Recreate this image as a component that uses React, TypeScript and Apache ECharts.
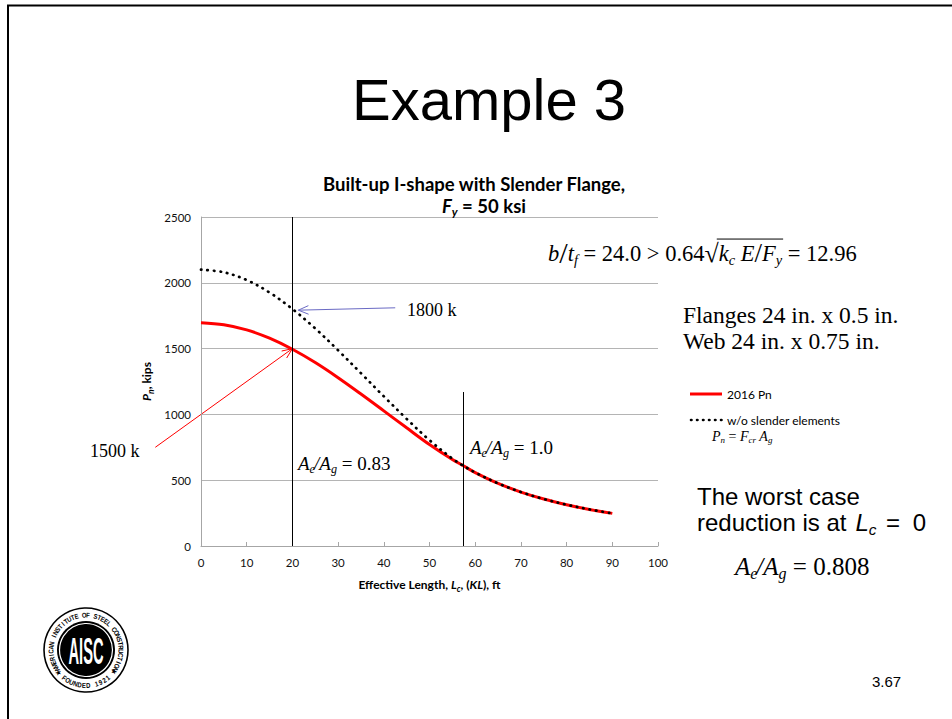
import React, { useEffect, useRef } from "react";
import * as echarts from "echarts";

// Effective length Lc (ft) at which the two strength curves are tabulated
const lengthFt = [0, 5, 10, 15, 20, 25, 30, 35, 40, 45, 50, 55, 57.3, 60, 65, 70, 75, 80, 85, 90];
// 2016 AISC nominal strength with slender flange (effective area), kips
const pn2016 = [1697, 1681, 1642, 1579, 1495, 1394, 1279, 1155, 1027, 898, 771, 657, 612, 558, 476, 410, 357, 314, 278, 248];
// Strength ignoring slender elements, Pn = Fcr Ag, kips
const pnGross = [2100, 2080, 2021, 1926, 1801, 1653, 1487, 1313, 1137, 966, 804, 664, 612, 558, 476, 410, 357, 314, 278, 248];

const seriesNames = ["2016 Pn", "w/o slender elements"];

// Axis ranges
const xRange = [0, 100, 10];
const yRange = [0, 2500, 500];

// Reference lines: Lc = 20 ft and the length where Ae/Ag reaches 1.0
const markLengths = [20, 57.3];
const markTops = [2500, 1170];

// Callout pointers in data units: [tail, tip]
const pointer1500 = [[-10, 750], [20, 1500]];
const pointer1800 = [[42.5, 1810], [21.3, 1792]];

const SERIF = "Liberation Serif";
const SANS = "Liberation Sans";
const BODY = "Lato";

const measureCtx = document.createElement("canvas").getContext("2d") as CanvasRenderingContext2D;
function textWidth(t: string, font: string) {
  measureCtx.font = font;
  return measureCtx.measureText(t).width;
}

type Seg = { t: string; i?: boolean; s?: boolean; b?: boolean; k?: number; over?: boolean; scale?: number };
type MathOpts = { x: number; y: number; size: number; family: string; align?: string; color?: string; bold?: boolean };

// Lays out a line of mixed italic / subscript text as separate text elements
function mathText(segs: Seg[], o: MathOpts) {
  const color = o.color || "#000";
  const items = segs.map((sg) => {
    const size = sg.s ? o.size * 0.64 : o.size * (sg.scale || 1);
    const style = sg.i ? "italic" : "normal";
    const weight = sg.b ?? o.bold ? "bold" : "normal";
    const w = textWidth(sg.t, `${style} ${weight} ${size}px "${o.family}"`) + (sg.k || 0);
    return { sg, size, style, weight, w };
  });
  const total = items.reduce((a, b) => a + b.w, 0);
  let cur = o.align === "center" ? o.x - total / 2 : o.x;
  let overStart: number | null = null;
  let overEnd = 0;
  const els: any[] = [];
  for (const it of items) {
    els.push({
      type: "text",
      x: cur,
      y: o.y + (it.sg.s ? o.size * 0.3 : 0),
      style: {
        text: it.sg.t,
        fontSize: it.size,
        fontStyle: it.style,
        fontWeight: it.weight,
        fontFamily: o.family,
        fill: color,
        align: "left",
        verticalAlign: "middle",
      },
    });
    if (it.sg.over) {
      if (overStart === null) overStart = cur;
      overEnd = cur + it.w;
    }
    cur += it.w;
  }
  if (overStart !== null) {
    els.push({
      type: "line",
      shape: { x1: overStart - 2, y1: o.y - o.size * 0.62, x2: overEnd + 1, y2: o.y - o.size * 0.62 },
      style: { stroke: color, lineWidth: 1 },
    });
  }
  return els;
}

function plainText(text: string, x: number, y: number, size: number, family: string, extra: any = {}) {
  return {
    type: "text",
    x,
    y,
    style: { text, fontSize: size, fontFamily: family, fill: "#000", align: "left", verticalAlign: "middle", ...extra },
  };
}

function arrowHead(tip: number[], from: number[], len: number, spread: number, color: string, w: number) {
  const ang = Math.atan2(from[1] - tip[1], from[0] - tip[0]);
  const p1 = [tip[0] + len * Math.cos(ang + spread), tip[1] + len * Math.sin(ang + spread)];
  const p2 = [tip[0] + len * Math.cos(ang - spread), tip[1] + len * Math.sin(ang - spread)];
  return { type: "polyline", shape: { points: [p1, tip, p2] }, style: { stroke: color, lineWidth: w, fill: "none" } };
}

// Round society seal with lettering around the rim
function seal(cx: number, cy: number) {
  const els: any[] = [];
  els.push({ type: "circle", shape: { cx, cy, r: 42 }, style: { fill: "#fff", stroke: "#000", lineWidth: 1.6 } });
  els.push({ type: "circle", shape: { cx, cy, r: 29 }, style: { fill: "#000" } });
  els.push({ type: "circle", shape: { cx, cy, r: 26.5 }, style: { fill: "none", stroke: "#fff", lineWidth: 1.2 } });
  els.push({
    type: "text",
    x: cx,
    y: cy + 1,
    scaleX: 0.7,
    scaleY: 1.8,
    style: { text: "AISC", fontSize: 21, fontWeight: "bold", fontFamily: SANS, fill: "#fff", stroke: "#000", lineWidth: 0.5, align: "center", verticalAlign: "middle" },
  });
  const top = "AMERICAN INSTITUTE OF STEEL CONSTRUCTION";
  const r = 35.2;
  const a0 = -124, a1 = 124;
  for (let i = 0; i < top.length; i++) {
    const a = ((a0 + (i * (a1 - a0)) / (top.length - 1)) * Math.PI) / 180;
    els.push({
      type: "text",
      x: cx + r * Math.sin(a),
      y: cy - r * Math.cos(a),
      rotation: -a,
      scaleX: 0.85,
      style: { text: top[i], fontSize: 7, fontWeight: "bold", fontFamily: SANS, fill: "#000", align: "center", verticalAlign: "middle" },
    });
  }
  const bottom = "★ FOUNDED 1921 ★";
  const b0 = -52, b1 = 52;
  for (let i = 0; i < bottom.length; i++) {
    const a = ((b0 + (i * (b1 - b0)) / (bottom.length - 1)) * Math.PI) / 180;
    els.push({
      type: "text",
      x: cx + r * Math.sin(a),
      y: cy + r * Math.cos(a),
      rotation: a,
      scaleX: 0.85,
      style: { text: bottom[i], fontSize: 7, fontWeight: "bold", fontFamily: SANS, fill: "#000", align: "center", verticalAlign: "middle" },
    });
  }
  return els;
}

const axisNameRich = {
  t: { fontFamily: BODY, fontWeight: "bold", fontSize: 12, color: "#000", lineHeight: 17, verticalAlign: "middle" },
  i: { fontFamily: BODY, fontWeight: "bold", fontStyle: "italic", fontSize: 12, color: "#000", lineHeight: 17, verticalAlign: "middle" },
  s: { fontFamily: BODY, fontWeight: "bold", fontStyle: "italic", fontSize: 8.5, color: "#000", lineHeight: 10, verticalAlign: "bottom" },
};

export default function App() {
  const ref = useRef<HTMLDivElement>(null);

  useEffect(() => {
    const chart = echarts.init(ref.current as HTMLDivElement, null, { renderer: "svg" });

    const option: any = {
      animation: false,
      backgroundColor: "#fff",
      grid: { left: 201, right: 294, top: 217, bottom: 173, outerBoundsMode: "none" },
      xAxis: {
        type: "value",
        min: xRange[0],
        max: xRange[1],
        interval: xRange[2],
        name: "{t|Effective Length, }{i|L}{s|c}{t|, (}{i|KL}{t|), ft}",
        nameLocation: "middle",
        nameGap: 30,
        nameTextStyle: { rich: axisNameRich },
        axisLine: { show: true, lineStyle: { color: "#a6a6a6", width: 1 } },
        axisTick: { show: true, inside: true, length: 4, lineStyle: { color: "#a6a6a6" } },
        axisLabel: { fontFamily: BODY, fontSize: 11.5, color: "#111", margin: 10 },
        splitLine: { show: false },
      },
      yAxis: {
        type: "value",
        min: yRange[0],
        max: yRange[1],
        interval: yRange[2],
        name: "{i|P}{s|n}{t|, kips}",
        nameLocation: "middle",
        nameGap: 46,
        nameTextStyle: { rich: axisNameRich },
        axisLine: { show: true, lineStyle: { color: "#a6a6a6", width: 1 } },
        axisTick: { show: false },
        axisLabel: { fontFamily: BODY, fontSize: 11.5, color: "#111", margin: 10, formatter: (v: number) => String(v) },
        splitLine: { show: true, lineStyle: { color: "#b4b4b4", width: 1 } },
      },
      series: [
        {
          name: seriesNames[0],
          type: "line",
          data: lengthFt.map((x, i) => [x, pn2016[i]]),
          symbol: "none",
          smooth: 0.35,
          z: 3,
          lineStyle: { color: "#ff0000", width: 3 },
          itemStyle: { color: "#ff0000" },
          markLine: {
            silent: true,
            symbol: ["none", "none"],
            label: { show: false },
            lineStyle: { color: "#000", width: 1, type: "solid" },
            data: markLengths.map((x, i) => [{ coord: [x, 0] }, { coord: [x, markTops[i]] }]),
          },
        },
        {
          name: seriesNames[1],
          type: "line",
          data: lengthFt.map((x, i) => [x, pnGross[i]]),
          symbol: "none",
          smooth: 0.35,
          z: 4,
          lineStyle: { color: "#000", width: 2.7, type: [0.5, 6], cap: "round" },
          itemStyle: { color: "#000" },
        },
      ],
    };
    chart.setOption(option);

    const px = (p: number[]) => chart.convertToPixel({ gridIndex: 0 }, p) as number[];
    const r0 = px(pointer1500[0]);
    const r1 = px(pointer1500[1]);
    const b0 = px(pointer1800[0]);
    const b1 = px(pointer1800[1]);

    const graphics: any[] = [
      // slide frame
      { type: "line", shape: { x1: 7, y1: 5.5, x2: 952, y2: 5.5 }, style: { stroke: "#000", lineWidth: 2 } },
      { type: "line", shape: { x1: 8, y1: 5, x2: 8, y2: 719 }, style: { stroke: "#000", lineWidth: 2 } },
      // headings
      plainText("Example 3", 489, 99, 58, SANS, { align: "center" }),
      plainText("Built-up I-shape with Slender Flange,", 474, 184, 18.5, BODY, { align: "center", fontWeight: "bold" }),
      ...mathText([{ t: "F", i: true }, { t: "y", i: true, s: true }, { t: " = 50 ksi" }], { x: 484, y: 206, size: 18.5, family: BODY, bold: true, align: "center" }),
      // legend
      { type: "line", shape: { x1: 690, y1: 394, x2: 722, y2: 394 }, style: { stroke: "#ff0000", lineWidth: 3 } },
      plainText(seriesNames[0], 727, 394, 12, BODY),
      { type: "line", shape: { x1: 691, y1: 420, x2: 722, y2: 420 }, style: { stroke: "#000", lineWidth: 2.6, lineDash: [0.5, 5.5], lineCap: "round" } },
      plainText(seriesNames[1], 727, 420, 12, BODY),
      ...mathText(
        [{ t: "P", i: true }, { t: "n", i: true, s: true }, { t: " = " }, { t: "F", i: true }, { t: "cr", i: true, s: true }, { t: " A", i: true }, { t: "g", i: true, s: true }],
        { x: 712, y: 436, size: 14, family: SERIF }
      ),
      // callouts
      { type: "line", shape: { x1: r0[0], y1: r0[1], x2: r1[0], y2: r1[1] }, style: { stroke: "#ff0000", lineWidth: 1 } },
      arrowHead(r1, r0, 11, 0.4, "#ff0000", 1),
      { type: "line", shape: { x1: b0[0], y1: b0[1], x2: b1[0], y2: b1[1] }, style: { stroke: "#6a6ac4", lineWidth: 1 } },
      arrowHead(b1, b0, 11, 0.4, "#6a6ac4", 1),
      plainText("1500 k", 90, 451, 18, SERIF),
      plainText("1800 k", 407, 310, 18, SERIF),
      ...mathText(
        [{ t: "A", i: true }, { t: "e", i: true, s: true, k: -1 }, { t: "/", i: true }, { t: "A", i: true }, { t: "g", i: true, s: true }, { t: " = 0.83" }],
        { x: 298, y: 463, size: 19, family: SERIF }
      ),
      ...mathText(
        [{ t: "A", i: true }, { t: "e", i: true, s: true, k: -1 }, { t: "/", i: true }, { t: "A", i: true }, { t: "g", i: true, s: true }, { t: " = 1.0" }],
        { x: 470, y: 447, size: 19, family: SERIF }
      ),
      // slenderness check
      ...mathText(
        [
          { t: "b", i: true },
          { t: "/", scale: 1.35 },
          { t: "t", i: true },
          { t: "f", i: true, s: true },
          { t: " = 24.0 > 0.64" },
          { t: "√", scale: 1.15 },
          { t: "k", i: true, over: true },
          { t: "c", i: true, s: true, over: true },
          { t: " E", i: true, over: true },
          { t: "/", scale: 1.2, over: true },
          { t: "F", i: true, over: true },
          { t: "y", i: true, s: true, over: true },
          { t: " = 12.96" },
        ],
        { x: 548, y: 253, size: 22.5, family: SERIF }
      ),
      plainText("Flanges 24 in. x 0.5 in.", 683, 315, 23.5, SERIF),
      plainText("Web 24 in. x 0.75 in.", 683, 341, 23.5, SERIF),
      plainText("The worst case", 697, 496, 24, SANS),
      ...mathText(
        [{ t: "reduction is at", k: 9 }, { t: "L", i: true }, { t: "c", i: true, s: true, k: 3 }, { t: " = ", k: 6 }, { t: "0" }],
        { x: 697, y: 522, size: 24, family: SANS }
      ),
      ...mathText(
        [{ t: "A", i: true }, { t: "e", i: true, s: true, k: -1 }, { t: "/", i: true }, { t: "A", i: true }, { t: "g", i: true, s: true }, { t: " = 0.808" }],
        { x: 735, y: 566, size: 25, family: SERIF }
      ),
      plainText("3.67", 872, 681, 15, SANS),
      ...seal(86, 650),
    ];
    chart.setOption({ graphic: graphics });

    return () => chart.dispose();
  }, []);

  return (
    <div
      ref={ref}
      style={{ position: "fixed", left: 0, top: 0, width: 952, height: 719, background: "#fff" }}
    />
  );
}
